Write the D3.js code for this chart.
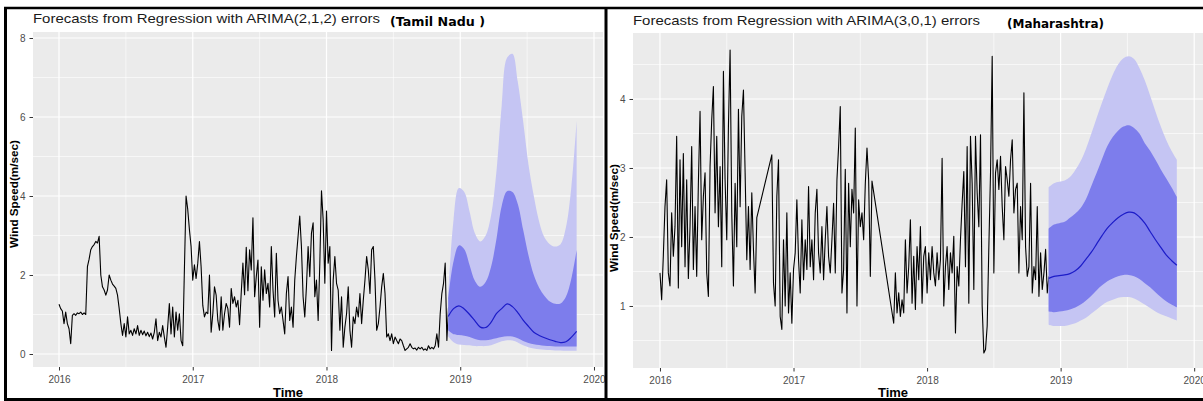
<!DOCTYPE html>
<html>
<head>
<meta charset="utf-8">
<script src="https://cdn.jsdelivr.net/npm/d3@7"></script>
<style>
body { margin: 0; background: #fff; }
svg text { font-family: "Liberation Sans", Arial, sans-serif; }
.axis path { display: none; }
.axis line { stroke: #333; }
.axis text { fill: #4d4d4d; font-size: 10px; font-family: "Liberation Sans", Arial, sans-serif; }
</style>
</head>
<body>
<div id="chart-area"></div>
<script>
const W = 1203
const H = 401

// observed daily-ish wind speed, one value every 1/80 year from 2016.0
const tnStart = 2016.0
const tnStep = 1 / 80
const tnSpeed = [
	1.26,1.15,1.09,0.77,1.06,0.77,0.64,0.26,0.98,1.02,
	0.98,1.04,1.02,1.06,1.00,1.04,1.00,2.21,2.40,2.64,
	2.72,2.77,2.85,2.81,2.98,2.00,1.70,1.62,1.49,1.62,
	2.00,1.87,1.77,1.72,1.66,1.49,1.15,0.77,0.47,0.77,
	0.43,0.94,0.51,0.60,0.47,0.64,0.51,0.72,0.47,0.60,
	0.49,0.58,0.46,0.55,0.44,0.53,0.38,0.55,0.89,0.34,
	0.55,0.43,0.72,0.43,0.17,0.68,1.28,0.51,1.19,0.43,
	1.06,0.60,1.02,0.34,0.21,2.13,4.00,3.66,3.15,2.72,
	1.87,2.26,1.91,2.30,2.85,2.21,1.23,0.94,1.06,1.02,
	2.00,0.55,1.02,1.70,1.49,0.85,0.60,1.45,0.60,1.02,
	1.28,1.15,0.68,1.66,1.28,1.45,1.19,1.36,0.74,1.55,
	2.30,1.50,2.70,1.60,2.64,2.13,3.45,1.45,1.96,2.38,
	0.68,2.21,1.36,2.13,1.53,1.79,1.19,2.72,1.62,0.94,
	2.55,1.36,1.02,1.19,0.85,0.51,1.53,1.96,0.85,1.19,
	0.68,1.87,2.47,2.98,3.49,2.72,1.45,0.94,1.70,2.72,
	1.96,3.06,3.32,1.45,1.87,0.85,2.30,4.13,3.40,1.79,
	3.62,2.30,2.72,0.09,1.87,2.47,1.79,1.62,0.60,1.45,
	0.17,0.68,1.02,1.70,0.60,0.17,0.94,0.77,1.19,0.94,
	1.53,0.77,1.36,1.87,2.47,2.13,1.53,2.64,2.72,1.87,
	0.60,0.77,1.19,1.70,2.04,1.53,0.43,0.51,0.34,0.51,
	0.26,0.43,0.34,0.26,0.38,0.34,0.21,0.09,0.13,0.17,
	0.26,0.17,0.13,0.15,0.10,0.17,0.13,0.17,0.10,0.13,
	0.09,0.21,0.13,0.17,0.13,0.21,0.51,0.17,1.02,1.53,
	1.79,2.30,0.34,1.19
]

// null = missing days (line is joined straight across them)
const mhStart = 2016.0
const mhStep = 1 / 80
const mhSpeed = [
	1.48,1.09,1.72,2.44,2.83,1.48,1.29,2.35,1.72,2.15,
	3.46,1.26,3.12,1.86,3.21,1.57,2.83,1.40,2.15,3.31,
	1.53,2.44,1.43,2.78,3.82,1.96,2.59,2.93,1.48,1.14,
	3.02,3.70,4.18,2.35,3.46,2.15,3.02,1.57,4.40,2.83,
	1.96,3.60,4.71,2.35,1.29,2.78,1.86,3.85,2.44,3.75,
	4.13,2.93,1.67,2.44,1.53,2.64,1.82,1.19,2.28,null,
	null,null,null,null,null,null,null,3.19,1.33,1.00,
	2.59,3.12,0.85,0.66,1.96,1.00,2.35,0.90,1.48,0.75,
	1.53,1.77,2.54,1.67,1.19,2.25,1.38,1.96,1.53,2.73,
	1.57,1.96,1.38,2.35,2.69,1.77,1.48,2.15,1.38,1.96,
	2.44,1.72,1.48,1.96,2.49,1.48,2.83,3.31,3.89,1.19,
	1.53,2.98,0.90,2.78,1.86,2.69,2.35,3.58,1.00,2.54,
	2.15,2.35,1.96,2.78,3.29,2.83,1.43,2.81,null,null,
	null,null,null,null,null,null,null,null,null,null,
	0.75,1.48,0.90,1.19,0.85,1.09,0.90,1.96,1.19,1.57,
	2.25,1.04,1.72,0.95,1.86,1.38,2.15,1.04,1.72,1.86,
	1.19,1.77,1.38,1.86,1.48,1.29,1.77,1.38,1.67,3.14,
	1.00,1.57,1.86,1.24,1.77,1.48,2.01,0.61,1.57,1.29,
	1.96,2.49,2.95,1.57,3.31,1.04,3.46,2.78,1.24,3.46,
	2.64,2.15,3.48,1.00,0.32,0.37,0.71,1.86,2.93,4.62,
	1.48,2.93,3.12,2.69,3.17,2.44,1.96,3.02,2.83,2.59,
	3.12,3.41,2.35,2.69,2.78,1.48,2.44,1.96,4.09,1.86,
	1.43,1.57,2.78,1.19,1.57,1.38,2.44,1.14,1.77,1.24,
	1.48,1.82,1.19,1.43
]

// forecast horizon
const fcYears = [2018.91,2018.95,2018.99,2019.03,2019.07,2019.11,2019.15,2019.19,2019.23,2019.27,
	2019.31,2019.35,2019.39,2019.43,2019.47,2019.51,2019.55,2019.59,2019.63,2019.67,
	2019.71,2019.75,2019.79,2019.83,2019.87]

const tnMean = [0.95,1.15,1.22,1.14,1.00,0.84,0.68,0.67,0.80,1.02,1.15,1.27,1.20,1.05,0.86,0.70,0.55,0.47,0.41,0.36,0.32,0.29,0.31,0.42,0.57]
const tnHi80 = [1.40,2.35,2.75,2.65,2.25,1.85,1.70,1.82,2.20,2.90,3.75,4.12,4.10,3.80,3.15,2.50,2.00,1.68,1.47,1.33,1.27,1.28,1.45,1.90,2.63]
const tnLo80 = [0.60,0.50,0.48,0.46,0.43,0.38,0.35,0.35,0.37,0.40,0.43,0.45,0.44,0.40,0.33,0.28,0.25,0.23,0.21,0.20,0.19,0.19,0.19,0.19,0.19]
const tnHi95 = [1.50,3.40,4.20,4.10,3.60,3.05,2.85,3.00,3.50,4.60,6.30,7.50,7.60,6.90,5.90,4.80,4.00,3.35,2.95,2.78,2.72,2.78,3.20,4.20,5.90]
const tnLo95 = [0.45,0.30,0.24,0.23,0.22,0.20,0.20,0.20,0.22,0.27,0.32,0.35,0.34,0.29,0.22,0.17,0.14,0.12,0.11,0.10,0.09,0.09,0.08,0.08,0.08]

const mhMean = [1.40,1.43,1.44,1.45,1.47,1.51,1.58,1.68,1.78,1.90,2.02,2.13,2.21,2.28,2.33,2.36,2.35,2.29,2.20,2.08,1.96,1.85,1.74,1.66,1.59]
const mhHi80 = [2.12,2.18,2.20,2.22,2.28,2.34,2.42,2.55,2.74,2.93,3.13,3.32,3.45,3.54,3.60,3.62,3.58,3.50,3.36,3.25,3.12,2.98,2.85,2.72,2.58]
const mhLo80 = [0.92,0.91,0.92,0.93,0.95,0.98,1.02,1.08,1.15,1.23,1.30,1.36,1.40,1.43,1.45,1.45,1.43,1.39,1.33,1.27,1.20,1.13,1.07,1.02,0.98]
const mhHi95 = [2.72,2.78,2.80,2.82,2.87,2.97,3.10,3.28,3.50,3.73,3.95,4.16,4.35,4.50,4.59,4.62,4.58,4.45,4.27,4.05,3.82,3.60,3.41,3.25,3.12]
const mhLo95 = [0.73,0.71,0.71,0.71,0.73,0.75,0.79,0.83,0.89,0.95,1.01,1.06,1.09,1.12,1.13,1.13,1.11,1.07,1.02,0.97,0.92,0.88,0.85,0.82,0.79]

const yearTicks = [2016, 2017, 2018, 2019, 2020]
const yearMinor = [2016.5, 2017.5, 2018.5, 2019.5]
const tnTicks = [0, 2, 4, 6, 8]
const tnMinor = [1, 3, 5, 7]
const mhTicks = [1, 2, 3, 4]
const mhMinor = [0.5, 1.5, 2.5, 3.5, 4.5]

const COL = { panel: '#ebebeb', hi95: '#c5c5f3', hi80: '#7d7dec', mean: '#1c1cc8' }

const svg = d3.select('#chart-area')
	.append('svg')
	.attr('width', W)
	.attr('height', H)

svg.append('rect').attr('width', W).attr('height', H).attr('fill', '#fff')

function drawPanel(p) {
	const x = d3.scaleLinear().domain(p.xDomain).range([p.x0, p.x1])
	const y = d3.scaleLinear().domain(p.yDomain).range([p.y1, p.y0])

	const g = svg.append('g')
	const clipId = 'clip-' + p.id
	g.append('clipPath').attr('id', clipId)
		.append('rect')
		.attr('x', p.x0).attr('y', p.y0)
		.attr('width', p.x1 - p.x0).attr('height', p.y1 - p.y0)

	g.append('rect')
		.attr('x', p.x0).attr('y', p.y0)
		.attr('width', p.x1 - p.x0).attr('height', p.y1 - p.y0)
		.attr('fill', COL.panel)

	const grid = g.append('g').attr('clip-path', `url(#${clipId})`)
	grid.selectAll('.vmin').data(yearMinor).enter().append('line')
		.attr('x1', d => x(d)).attr('x2', d => x(d))
		.attr('y1', p.y0).attr('y2', p.y1)
		.attr('stroke', '#fff').attr('stroke-width', 0.6)
	grid.selectAll('.hmin').data(p.yMinor).enter().append('line')
		.attr('y1', d => y(d)).attr('y2', d => y(d))
		.attr('x1', p.x0).attr('x2', p.x1)
		.attr('stroke', '#fff').attr('stroke-width', 0.6)
	grid.selectAll('.vmaj').data(yearTicks).enter().append('line')
		.attr('x1', d => x(d)).attr('x2', d => x(d))
		.attr('y1', p.y0).attr('y2', p.y1)
		.attr('stroke', '#fff').attr('stroke-width', 1.2)
	grid.selectAll('.hmaj').data(p.yTicks).enter().append('line')
		.attr('y1', d => y(d)).attr('y2', d => y(d))
		.attr('x1', p.x0).attr('x2', p.x1)
		.attr('stroke', '#fff').attr('stroke-width', 1.2)

	const marks = g.append('g').attr('clip-path', `url(#${clipId})`)

	// observed series
	const obs = p.speed
		.map((v, i) => ({ t: p.start + i * p.step, v: v }))
		.filter(d => d.v !== null)
	const line = d3.line().x(d => x(d.t)).y(d => y(d.v))
	marks.append('path')
		.attr('d', line(obs))
		.attr('fill', 'none')
		.attr('stroke', '#000')
		.attr('stroke-width', 1.1)
		.attr('stroke-linejoin', 'round')

	// forecast fan
	const fc = fcYears.map((t, i) => ({
		t: t, mean: p.mean[i], lo80: p.lo80[i], hi80: p.hi80[i], lo95: p.lo95[i], hi95: p.hi95[i]
	}))
	const band = (lo, hi) => d3.area()
		.curve(d3.curveCatmullRom)
		.x(d => x(d.t)).y0(d => y(d[lo])).y1(d => y(d[hi]))
	marks.append('path').attr('d', band('lo95', 'hi95')(fc)).attr('fill', COL.hi95)
	marks.append('path').attr('d', band('lo80', 'hi80')(fc)).attr('fill', COL.hi80)
	marks.append('path')
		.attr('d', d3.line().curve(d3.curveCatmullRom).x(d => x(d.t)).y(d => y(d.mean))(fc))
		.attr('fill', 'none')
		.attr('stroke', COL.mean)
		.attr('stroke-width', 1.2)

	// axes
	g.append('g').attr('class', 'axis')
		.attr('transform', `translate(${p.x0},0)`)
		.call(d3.axisLeft(y).tickValues(p.yTicks).tickSize(3.5).tickPadding(4).tickFormat(d3.format('d')))
	g.append('g').attr('class', 'axis')
		.attr('transform', `translate(0,${p.y1})`)
		.call(d3.axisBottom(x).tickValues(yearTicks).tickSize(3.5).tickPadding(5.5).tickFormat(d3.format('d')))

	// titles
	g.append('text')
		.attr('x', p.x0).attr('y', p.titleY)
		.attr('font-size', 13.5).attr('fill', '#1a1a1a')
		.attr('textLength', 347).attr('lengthAdjust', 'spacingAndGlyphs')
		.text(p.title)
	g.append('text')
		.attr('x', p.regionX).attr('y', p.titleY + 2.5)
		.attr('font-size', 11.5).attr('font-weight', 'bold')
		.style('font-family', '"DejaVu Sans", Verdana, sans-serif')
		.attr('textLength', p.regionW).attr('lengthAdjust', 'spacingAndGlyphs')
		.text(p.region)
	g.append('text')
		.attr('transform', `translate(${p.yTitleX},${p.yTitleY}) rotate(-90)`)
		.attr('dy', '0.35em')
		.attr('text-anchor', 'middle')
		.attr('font-size', 11).attr('font-weight', 'bold')
		.attr('textLength', 108).attr('lengthAdjust', 'spacingAndGlyphs')
		.text('Wind Speed(m/sec)')
	g.append('text')
		.attr('x', p.timeX).attr('y', 397)
		.attr('text-anchor', 'middle')
		.attr('font-size', 13).attr('font-weight', 'bold')
		.text('Time')
}

drawPanel({
	id: 'tn', x0: 33, x1: 603, y0: 32, y1: 367,
	xDomain: [2015.8056, 2020.0673], yDomain: [-0.329, 8.152],
	yTicks: tnTicks, yMinor: tnMinor,
	start: tnStart, step: tnStep, speed: tnSpeed,
	mean: tnMean, lo80: tnLo80, hi80: tnHi80, lo95: tnLo95, hi95: tnHi95,
	title: 'Forecasts from Regression with ARIMA(2,1,2) errors', titleY: 23,
	region: '(Tamil Nadu )', regionX: 390, regionW: 95,
	yTitleX: 14, yTitleY: 194, timeX: 288
})

drawPanel({
	id: 'mh', x0: 633, x1: 1203, y0: 33, y1: 368,
	xDomain: [2015.798, 2020.066], yDomain: [0.1014, 4.9565],
	yTicks: mhTicks, yMinor: mhMinor,
	start: mhStart, step: mhStep, speed: mhSpeed,
	mean: mhMean, lo80: mhLo80, hi80: mhHi80, lo95: mhLo95, hi95: mhHi95,
	title: 'Forecasts from Regression with ARIMA(3,0,1) errors', titleY: 25,
	region: '(Maharashtra)', regionX: 1007, regionW: 97,
	yTitleX: 614, yTitleY: 218, timeX: 893
})

// black frame around the two screenshots
const frame = svg.append('g').attr('stroke', '#000').attr('fill', 'none')
frame.append('line').attr('x1', 4).attr('x2', W).attr('y1', 8).attr('y2', 8).attr('stroke-width', 2.6)
frame.append('line').attr('x1', 5.5).attr('x2', 5.5).attr('y1', 7).attr('y2', H).attr('stroke-width', 3)
frame.append('line').attr('x1', 606).attr('x2', 606).attr('y1', 7).attr('y2', H).attr('stroke-width', 3)
frame.append('line').attr('x1', 4).attr('x2', W).attr('y1', 399.5).attr('y2', 399.5).attr('stroke-width', 3)
</script>
</body>
</html>
